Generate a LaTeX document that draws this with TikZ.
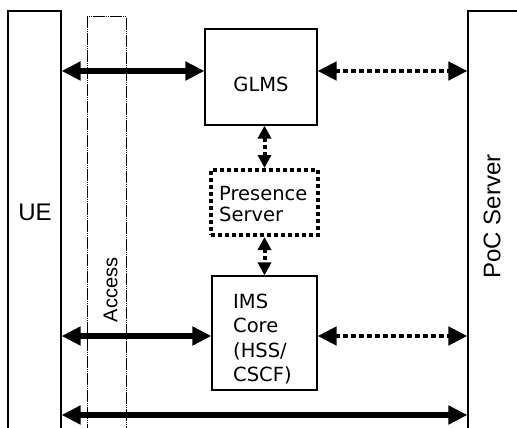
\documentclass[tikz,border=0pt]{standalone}
\usepackage{fontspec}
\setmainfont{Liberation Sans}
\newfontfamily\verd{DejaVu Sans}
\usepackage{tikz}
\usetikzlibrary{arrows.meta,positioning}

\begin{document}
\begin{tikzpicture}[x=1pt, y=-1pt,
    box/.style={draw, line width=1.2pt, inner sep=0pt},
    solidarrow/.style={line width=5.5pt, {Triangle[length=19pt,width=18pt]}-{Triangle[length=19pt,width=18pt]}},
    dotarrow/.style={line width=4.5pt, dash pattern=on 4.5pt off 3.5pt, {Triangle[length=19pt,width=18pt]}-{Triangle[length=19pt,width=18pt]}},
    vdotarrow/.style={line width=4pt, dash pattern=on 4pt off 3pt, {Triangle[length=13pt,width=13pt]}-{Triangle[length=13pt,width=13pt]}},
    boxtext/.style={font=\verd\fontsize{19.5}{24.5}\selectfont, inner sep=0pt, align=left}]
    \useasboundingbox (0,0) rectangle (517,428);
    \clip (0,0) rectangle (517,428);
    % side boxes (open at the bottom)
    \node[box, minimum width=53pt, minimum height=439pt] (ue) at (34.5,230.5) {};
    \node[draw, line width=1pt, dash pattern=on 12pt off 1pt on 1pt off 1pt on 1pt off 1pt, minimum width=39pt, minimum height=433pt] (access) at (106.5,233.5) {};
    \node[box, minimum width=102pt, minimum height=439pt] (poc) at (519,230.5) {};
    \node[font=\fontsize{24}{28}\selectfont, inner sep=0pt] (uelabel) at (35,212) {UE};
    \node[font=\fontsize{20}{24}\selectfont, inner sep=0pt, rotate=90] (accesslabel) at (110.5,290) {Access};
    \node[font=\fontsize{24}{28}\selectfont, inner sep=0pt, rotate=90] (poclabel) at (492,216.5) {PoC Server};
    % middle boxes
    \node[box, minimum width=112pt, minimum height=96pt] (glms) at (261,77) {};
    \node[boxtext] (glmslabel) at (261,84.5) {GLMS};
    \node[draw, line width=4pt, dash pattern=on 4pt off 3pt, minimum width=107pt, minimum height=65pt] (presence) at (264.5,202.5) {};
    \node[boxtext, font=\verd\fontsize{19.5}{21.5}\selectfont, anchor=west] (presencelabel) at (219,204) {Presence\\Server};
    \node[box, minimum width=105pt, minimum height=114pt] (ims) at (264.5,333) {};
    \node[boxtext, anchor=west] (imslabel) at (233,339) {IMS\\Core\\(HSS/\\CSCF)};
    % rows of the connectors
    \coordinate (rowa) at (0,71);
    \coordinate (rowb) at (0,336);
    \coordinate (rowc) at (0,415);
    \draw[solidarrow] (ue.east |- rowa) -- (glms.west |- rowa);
    \draw[dotarrow] (glms.east |- rowa) -- (poc.west |- rowa);
    \draw[solidarrow] (ue.east |- rowb) -- (ims.west |- rowb);
    \draw[dotarrow] (ims.east |- rowb) -- (poc.west |- rowb);
    \draw[solidarrow] (ue.east |- rowc) -- (poc.west |- rowc);
    \draw[vdotarrow] (presence.north |- glms.south) -- (presence.north);
    \draw[vdotarrow] (presence.south) -- (ims.north);
\end{tikzpicture}
\end{document}
